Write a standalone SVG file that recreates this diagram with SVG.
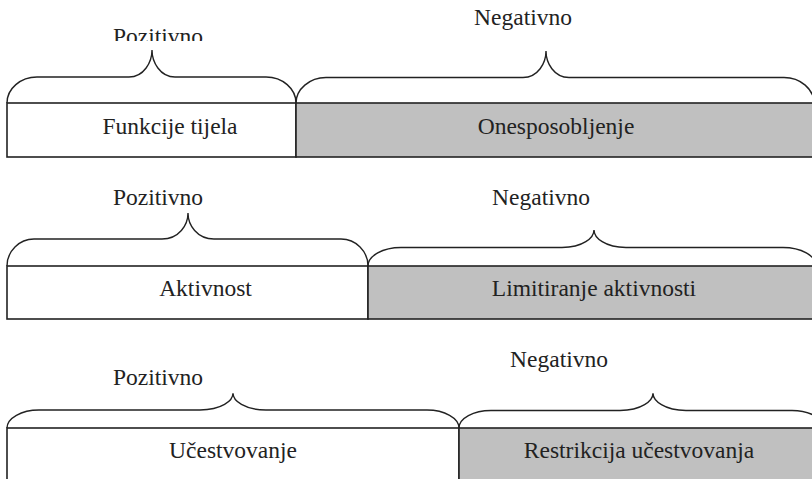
<svg xmlns="http://www.w3.org/2000/svg" width="812" height="479" viewBox="0 0 812 479">
<style>
.t{font-family:"Liberation Serif","Times New Roman",serif;font-size:23.5px;fill:#222;text-anchor:middle}
.pos{fill:#fff;stroke:#222;stroke-width:1.6}
.neg{fill:#c0c0c0;stroke:#222;stroke-width:1.6}
.br{fill:none;stroke:#222;stroke-width:1.4}
</style>
<defs>
<clipPath id="clip1"><rect x="0" y="0" width="812" height="41"/></clipPath>
</defs>
<rect width="812" height="479" fill="#fff"/>
<g id="braces">
<path class="br" d="M7,103 C7,88.7 20.5,77 37,77 L129,77 C144,77 152,62 152,50 C152,62 160,77 175,77 L266,77 C282.5,77 296,88.7 296,103"/>
<path class="br" d="M296,103 C296,89.3 309.5,77.5 326,77.5 L523,77.5 C538,77.5 546,63 546,51 C546,63 554,77.5 569,77.5 L784,77.5 C800.5,77.5 814,89.3 814,103"/>
<path class="br" d="M7,266 C7,251.2 19.2,239 34,239 L162,239 C179,239 188,225 188,213 C188,225 197,239 214,239 L341,239 C355.8,239 368,251.2 368,266"/>
<path class="br" d="M368,266 C368,255.8 382.9,247.5 401,247.5 L562,247.5 C582.8,247.5 594,237.9 594,230 C594,237.9 605.2,247.5 626,247.5 L783,247.5 C801.1,247.5 816,255.8 816,266"/>
<path class="br" d="M7,428 C7,418.1 21.4,410 39,410 L200,410 C221.5,410 233,400.8 233,393.3 C233,400.8 244.5,410 266,410 L427,410 C444.6,410 459,418.1 459,428"/>
<path class="br" d="M459,428 C459,418.4 473.4,410.5 491,410.5 L620,410.5 C641.5,410.5 653,400.8 653,393.3 C653,400.8 664.5,410.5 686,410.5 L792,410.5 C809.6,410.5 824,418.4 824,428"/>
</g>
<g id="label-pos-1"><text class="t" x="158" y="44" clip-path="url(#clip1)">Pozitivno</text></g>
<g id="label-neg-1"><text class="t" x="523" y="25">Negativno</text></g>
<g id="funkcije"><rect class="pos" x="7" y="103" width="289" height="54"/><text class="t" x="170" y="133.5">Funkcije tijela</text></g>
<g id="onesposobljenje"><rect class="neg" x="296" y="103" width="530" height="54"/><text class="t" x="556" y="133.5">Onesposobljenje</text></g>
<g id="label-pos-2"><text class="t" x="158" y="204.5">Pozitivno</text></g>
<g id="label-neg-2"><text class="t" x="541" y="205">Negativno</text></g>
<g id="aktivnost"><rect class="pos" x="7" y="266" width="361" height="53"/><text class="t" x="205.5" y="296">Aktivnost</text></g>
<g id="limitiranje"><rect class="neg" x="368" y="266" width="460" height="53"/><text class="t" x="594" y="296">Limitiranje aktivnosti</text></g>
<g id="label-pos-3"><text class="t" x="158" y="385">Pozitivno</text></g>
<g id="label-neg-3"><text class="t" x="559" y="367">Negativno</text></g>
<g id="ucestvovanje"><rect class="pos" x="7" y="428" width="452" height="70"/><text class="t" x="233" y="458">Učestvovanje</text></g>
<g id="restrikcija"><rect class="neg" x="459" y="428" width="370" height="70"/><text class="t" x="639" y="458">Restrikcija učestvovanja</text></g>
</svg>
